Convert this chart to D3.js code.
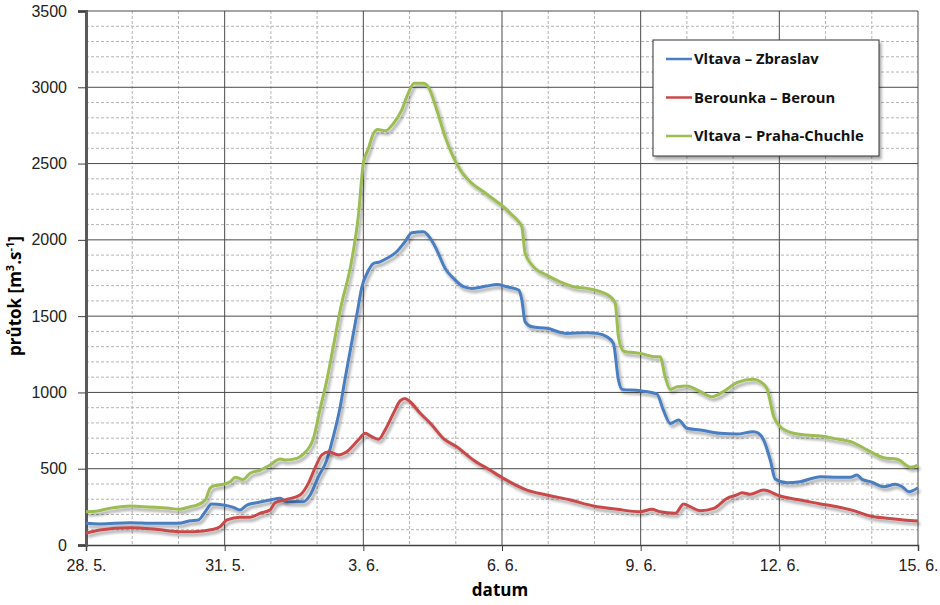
<!DOCTYPE html>
<html>
<head>
<meta charset="utf-8">
<script src="https://cdn.jsdelivr.net/npm/d3@7"></script>
<style>
  body { margin: 0; background: #fff; }
  svg { display: block; font-family: "Open Sans", "Noto Sans", sans-serif; }
</style>
</head>
<body>
<div id="chart"></div>
<script>
// days counted from 28. 5. 00:00
var startDate = new Date(2013, 4, 28);
var tickLabels = ["28. 5.", "31. 5.", "3. 6.", "6. 6.", "9. 6.", "12. 6.", "15. 6."];
var seriesNames = ["Vltava – Zbraslav", "Berounka – Beroun", "Vltava – Praha-Chuchle"];

var zbraslavDays = [0, 0.30, 0.95, 1.46, 2.00, 2.25, 2.43, 2.58, 2.72, 2.97, 3.19, 3.33, 3.48, 3.69, 3.98, 4.20, 4.34, 4.70, 4.85, 5.03, 5.21, 5.35, 5.50, 5.60, 5.75, 5.89, 5.97, 6.08, 6.22, 6.36, 6.51, 6.72, 6.90, 7.05, 7.30, 7.45, 7.59, 7.77, 7.95, 8.17, 8.35, 8.67, 8.89, 9.10, 9.36, 9.43, 9.50, 9.65, 9.97, 10.40, 10.84, 11.05, 11.27, 11.41, 11.52, 11.60, 11.99, 12.35, 12.49, 12.64, 12.82, 13.00, 13.29, 13.72, 14.08, 14.44, 14.55, 14.66, 14.81, 14.91, 15.17, 15.45, 15.89, 16.25, 16.54, 16.68, 16.79, 16.97, 17.26, 17.51, 17.66, 17.80, 18.0];
var zbraslavFlow = [142, 138, 146, 142, 142, 159, 164, 218, 269, 262, 247, 229, 262, 277, 295, 306, 284, 284, 328, 448, 557, 710, 906, 1081, 1330, 1562, 1693, 1780, 1846, 1856, 1879, 1922, 1988, 2046, 2053, 2010, 1933, 1813, 1748, 1693, 1682, 1697, 1708, 1693, 1671, 1605, 1463, 1430, 1420, 1387, 1391, 1387, 1365, 1322, 1081, 1020, 1011, 990, 885, 797, 819, 765, 754, 732, 727, 743, 732, 688, 550, 433, 408, 415, 448, 444, 444, 459, 430, 415, 382, 398, 382, 349, 375];

var berounDays = [0, 0.30, 0.95, 1.46, 2.03, 2.32, 2.76, 2.90, 3.05, 3.33, 3.55, 3.77, 3.98, 4.09, 4.34, 4.63, 4.81, 4.96, 5.10, 5.25, 5.46, 5.64, 5.89, 6.04, 6.18, 6.33, 6.47, 6.65, 6.80, 6.90, 7.01, 7.23, 7.45, 7.73, 8.02, 8.38, 8.74, 9.03, 9.54, 9.97, 10.48, 10.98, 11.49, 11.99, 12.24, 12.42, 12.75, 12.93, 13.07, 13.29, 13.58, 13.87, 14.08, 14.19, 14.37, 14.66, 15.02, 15.24, 15.53, 15.89, 16.25, 16.61, 16.97, 17.33, 17.69, 18.0];
var berounFlow = [77, 98, 113, 105, 87, 87, 103, 120, 164, 182, 182, 208, 229, 277, 299, 328, 404, 509, 590, 611, 590, 611, 688, 732, 710, 693, 754, 863, 946, 961, 939, 863, 798, 699, 644, 557, 491, 437, 360, 328, 295, 256, 234, 218, 234, 218, 208, 269, 251, 225, 240, 306, 328, 343, 332, 360, 321, 306, 290, 269, 251, 225, 190, 175, 164, 157];

var chuchleDays = [0, 0.25, 0.5, 0.75, 1.0, 1.25, 1.5, 1.75, 2.03, 2.25, 2.40, 2.58, 2.68, 2.76, 2.97, 3.12, 3.23, 3.40, 3.55, 3.77, 3.98, 4.20, 4.31, 4.56, 4.70, 4.92, 5.06, 5.21, 5.35, 5.50, 5.75, 5.89, 6.00, 6.11, 6.22, 6.31, 6.48, 6.65, 6.83, 6.97, 7.10, 7.30, 7.41, 7.59, 7.77, 7.88, 8.10, 8.31, 8.60, 8.89, 9.03, 9.18, 9.36, 9.43, 9.50, 9.65, 9.97, 10.26, 10.55, 10.84, 11.13, 11.38, 11.45, 11.52, 11.63, 11.99, 12.32, 12.42, 12.53, 12.64, 12.79, 13.00, 13.29, 13.54, 13.79, 14.08, 14.44, 14.59, 14.73, 14.88, 15.02, 15.31, 15.60, 15.89, 16.18, 16.61, 16.90, 17.26, 17.55, 17.84, 18.0];
var chuchleFlow = [218, 223, 240, 251, 255, 251, 247, 242, 234, 251, 262, 295, 371, 387, 398, 415, 444, 430, 470, 491, 524, 563, 557, 568, 596, 699, 885, 1081, 1300, 1540, 1868, 2151, 2501, 2600, 2698, 2724, 2715, 2763, 2851, 2960, 3026, 3026, 3000, 2851, 2676, 2589, 2457, 2381, 2315, 2250, 2217, 2174, 2119, 2086, 1911, 1835, 1769, 1725, 1693, 1682, 1660, 1617, 1584, 1365, 1270, 1256, 1234, 1234, 1103, 1020, 1037, 1042, 1005, 972, 1005, 1064, 1086, 1070, 1027, 841, 775, 732, 721, 714, 699, 670, 623, 572, 562, 510, 524];

var colors = ["#4a7ec0", "#c8494a", "#9bbd52"];

var W = 940, H = 605;
var margin = {top: 11, right: 22, bottom: 60, left: 86};
var iw = W - margin.left - margin.right, ih = H - margin.top - margin.bottom;

function toDate(d) { return new Date(startDate.getTime() + d * 864e5); }

var series = [
  {name: seriesNames[0], days: zbraslavDays, flow: zbraslavFlow, color: colors[0]},
  {name: seriesNames[1], days: berounDays, flow: berounFlow, color: colors[1]},
  {name: seriesNames[2], days: chuchleDays, flow: chuchleFlow, color: colors[2]}
];

var x = d3.scaleTime().domain([toDate(0), toDate(18)]).range([0, iw]);
var y = d3.scaleLinear().domain([0, 3500]).range([ih, 0]);

var svg = d3.select("#chart").append("svg").attr("width", W).attr("height", H);

var defs = svg.append("defs");
var f = defs.append("filter").attr("id", "shadow").attr("x", "-10%").attr("y", "-10%").attr("width", "130%").attr("height", "130%");
f.append("feGaussianBlur").attr("in", "SourceAlpha").attr("stdDeviation", 1.8).attr("result", "b");
f.append("feOffset").attr("in", "b").attr("dx", 2).attr("dy", 3).attr("result", "o");
f.append("feComponentTransfer").attr("in", "o").attr("result", "s")
  .append("feFuncA").attr("type", "linear").attr("slope", 0.35);
var m = f.append("feMerge");
m.append("feMergeNode").attr("in", "s");
m.append("feMergeNode").attr("in", "SourceGraphic");

var g = svg.append("g").attr("transform", "translate(" + margin.left + "," + margin.top + ")");

// minor grid
var minorX = d3.range(1, 18).filter(function(d) { return d % 3 !== 0; });
g.selectAll(".vminor").data(minorX).enter().append("line")
  .attr("x1", function(d) { return x(toDate(d)); }).attr("x2", function(d) { return x(toDate(d)); })
  .attr("y1", 0).attr("y2", ih)
  .attr("stroke", "#b5b5b5").attr("stroke-dasharray", "3,2");
var minorY = d3.range(100, 3500, 100).filter(function(d) { return d % 500 !== 0; });
g.selectAll(".hminor").data(minorY).enter().append("line")
  .attr("x1", 0).attr("x2", iw)
  .attr("y1", function(d) { return y(d); }).attr("y2", function(d) { return y(d); })
  .attr("stroke", "#b5b5b5").attr("stroke-dasharray", "3,2");

// major grid
g.selectAll(".vmajor").data(d3.range(3, 19, 3)).enter().append("line")
  .attr("x1", function(d) { return x(toDate(d)); }).attr("x2", function(d) { return x(toDate(d)); })
  .attr("y1", 0).attr("y2", ih)
  .attr("stroke", "#4a4a4a");
g.selectAll(".hmajor").data(d3.range(500, 3501, 500)).enter().append("line")
  .attr("x1", 0).attr("x2", iw)
  .attr("y1", function(d) { return y(d); }).attr("y2", function(d) { return y(d); })
  .attr("stroke", "#4a4a4a");

// axes
var xTicks = d3.range(0, 19, 3).map(toDate);
var xAxis = g.append("g").attr("transform", "translate(0," + ih + ")")
  .call(d3.axisBottom(x).tickValues(xTicks).tickSize(6).tickPadding(9)
    .tickFormat(function(d, i) { return tickLabels[i]; }));
xAxis.select(".domain").attr("stroke", "#404040").attr("stroke-width", 1.5);
xAxis.selectAll(".tick line").attr("stroke", "#404040");
xAxis.selectAll("text").attr("font-size", 16).attr("fill", "#222");

var yAxis = g.append("g")
  .call(d3.axisLeft(y).tickValues(d3.range(0, 3501, 500)).tickSize(8).tickPadding(11).tickFormat(d3.format("d")));
yAxis.select(".domain").attr("stroke", "#5a5a5a").attr("stroke-width", 3);
yAxis.selectAll(".tick line").attr("stroke", "#404040");
yAxis.selectAll("text").attr("font-size", 16).attr("fill", "#222");

// lines
var line = d3.line()
  .x(function(d) { return x(toDate(d[0])); })
  .y(function(d) { return y(d[1]); })
  .curve(d3.curveMonotoneX);

g.selectAll(".series").data(series).enter().append("path")
  .attr("fill", "none")
  .attr("stroke", function(d) { return d.color; })
  .attr("stroke-width", 3)
  .attr("stroke-linejoin", "round")
  .attr("filter", "url(#shadow)")
  .attr("d", function(d) { return line(d3.zip(d.days, d.flow)); });

// axis titles
svg.append("text")
  .attr("x", margin.left + iw / 2 - 2).attr("y", 596)
  .attr("text-anchor", "middle").attr("font-size", 17).attr("font-weight", "bold")
  .text("datum");

var yt = svg.append("text")
  .attr("transform", "translate(21,296) rotate(-90)")
  .attr("text-anchor", "middle").attr("font-size", 17).attr("font-weight", "bold");
yt.append("tspan").text("průtok [m");
yt.append("tspan").attr("dy", -7).attr("font-size", 11).text("3");
yt.append("tspan").attr("dy", 7).text(".s");
yt.append("tspan").attr("dy", -7).attr("font-size", 11).text("-1");
yt.append("tspan").attr("dy", 7).text("]");

// legend
var lg = svg.append("g").attr("transform", "translate(653,40)");
lg.append("rect").attr("width", 226).attr("height", 116)
  .attr("fill", "#fff").attr("stroke", "#333").attr("filter", "url(#shadow)");
var items = lg.selectAll(".item").data(series).enter().append("g")
  .attr("transform", function(d, i) { return "translate(13," + (19 + i * 38.5) + ")"; });
items.append("line").attr("x1", 0).attr("x2", 26).attr("y1", 0).attr("y2", 0)
  .attr("stroke", function(d) { return d.color; }).attr("stroke-width", 2.5);
items.append("text").attr("x", 28).attr("dy", "0.35em")
  .attr("font-size", 14.8).attr("font-weight", "bold").attr("fill", "#111")
  .text(function(d) { return d.name; });
</script>
</body>
</html>
